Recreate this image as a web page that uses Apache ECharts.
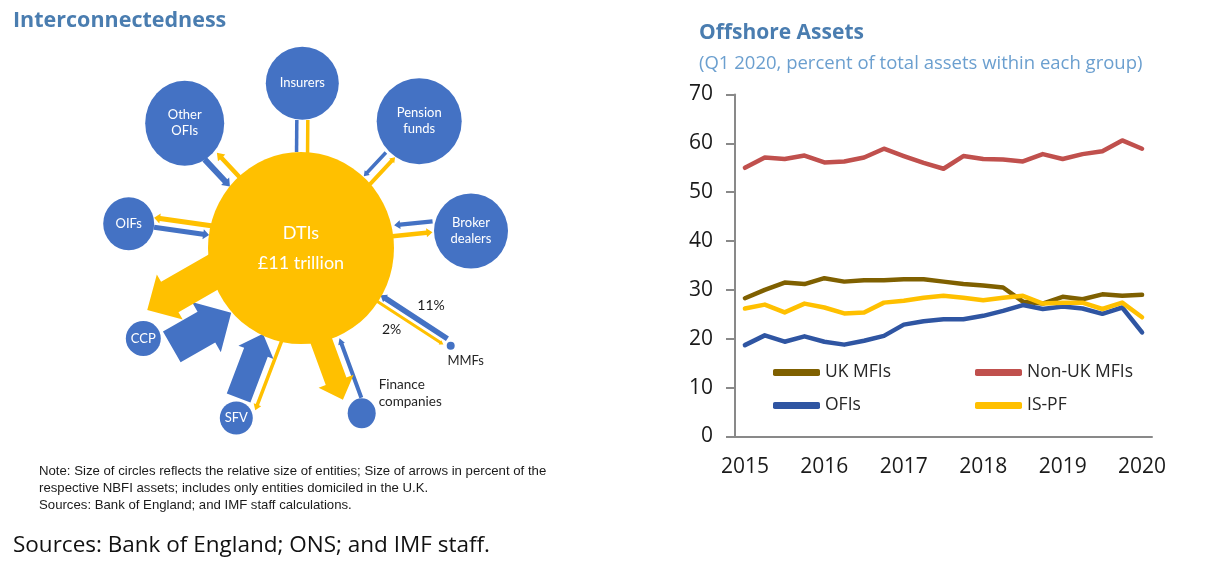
<!DOCTYPE html>
<html>
<head>
<meta charset="UTF-8">
<title>Interconnectedness / Offshore Assets</title>
<script src="https://cdn.jsdelivr.net/npm/echarts@6/dist/echarts.min.js"></script>
<style>
    html, body { margin: 0; padding: 0; background: #fff; }
    #main { width: 1215px; height: 562px; }
</style>
</head>
<body>
<div id="main"></div>
<script>
    // ---- Offshore assets, percent of total assets within each group ----
    var quarters = ['2015Q1','2015Q2','2015Q3','2015Q4','2016Q1','2016Q2','2016Q3','2016Q4',
                    '2017Q1','2017Q2','2017Q3','2017Q4','2018Q1','2018Q2','2018Q3','2018Q4',
                    '2019Q1','2019Q2','2019Q3','2019Q4','2020Q1'];
    var ukMfis    = [28.3, 30.0, 31.5, 31.2, 32.4, 31.7, 32.0, 32.0, 32.2, 32.2, 31.7, 31.2, 30.9, 30.5, 27.6, 27.2, 28.6, 28.1, 29.1, 28.8, 29.0];
    var nonUkMfis = [55.0, 57.1, 56.8, 57.5, 56.1, 56.3, 57.1, 58.9, 57.4, 56.0, 54.8, 57.4, 56.8, 56.7, 56.3, 57.8, 56.8, 57.8, 58.4, 60.6, 58.9];
    var ofis      = [18.7, 20.7, 19.4, 20.5, 19.4, 18.8, 19.6, 20.6, 22.9, 23.6, 24.0, 24.0, 24.7, 25.7, 26.9, 26.1, 26.6, 26.2, 25.1, 26.4, 21.3];
    var isPf      = [26.2, 27.0, 25.4, 27.2, 26.4, 25.2, 25.4, 27.4, 27.8, 28.4, 28.8, 28.4, 27.9, 28.4, 28.8, 27.2, 27.4, 27.4, 26.1, 27.4, 24.4];

    // ---- Interconnectedness diagram ----
    var entities = ['DTIs', 'Insurers', 'Other OFIs', 'Pension funds', 'OIFs', 'Broker dealers',
                    'CCP', 'SFV', 'Finance companies', 'MMFs'];
    var flows = [
        ['Insurers', 'DTIs'], ['DTIs', 'Insurers'],
        ['Other OFIs', 'DTIs'], ['DTIs', 'Other OFIs'],
        ['Pension funds', 'DTIs'], ['DTIs', 'Pension funds'],
        ['OIFs', 'DTIs'], ['DTIs', 'OIFs'],
        ['Broker dealers', 'DTIs'], ['DTIs', 'Broker dealers'],
        ['CCP', 'DTIs'], ['DTIs', 'CCP'],
        ['SFV', 'DTIs'], ['DTIs', 'SFV'],
        ['Finance companies', 'DTIs'], ['DTIs', 'Finance companies'],
        ['MMFs', 'DTIs'], ['DTIs', 'MMFs']
    ];
    var flowShares = ['', '', '', '', '', '', '', '', '', '', '', '', '', '', '', '', '11%', '2%'];

    // layout of the diagram (panel pixels): x, y, width, height
    var nodeLayout = {
        'DTIs': [301, 248, 186, 192],
        'Insurers': [302.3, 83.3, 73, 73],
        'Other OFIs': [184.7, 123.3, 79, 85],
        'Pension funds': [419.2, 121.2, 85, 86],
        'OIFs': [128.7, 223.7, 51, 53],
        'Broker dealers': [471, 231, 74, 75],
        'CCP': [143.3, 338.5, 35, 35],
        'SFV': [236.3, 418, 33, 33],
        'Finance companies': [361.7, 413.3, 28, 30],
        'MMFs': [450.7, 345.7, 8, 8]
    };
    // arrow shape: offset, start, end, width, head width, head length, label dx, dy
    var flowShape = [
        [5.2, 36.7, 68.7, 3.5, 3.5, 0], [5.8, 60, 128, 3.5, 3.5, 0],
        [10, 40, 77, 6, 11, 7], [3.4, 60, 127, 4.5, 10, 7],
        [3, 45.6, 78, 3.5, 7, 5], [7, 60, 130.5, 4, 7, 5],
        [0, 25.6, 81.2, 5, 10, 6], [9.5, 60, 149.7, 5, 10, 6],
        [13.4, 37.3, 75.9, 4.5, 9, 6], [-2.6, 70, 132.4, 4.5, 9, 6],
        [21.5, 20.5, 89, 35.5, 58, 28.6], [22.8, 40, 164.2, 35, 52, 26],
        [-5, 19.6, 88.2, 25.3, 37.5, 19.8], [-15, 80, 168, 3.5, 8, 6],
        [5, 14.7, 78, 4, 7, 6], [13, 80, 157, 22, 37.3, 19.8],
        [4, 6.5, 86.4, 5.5, 9, 6, 17, -11], [3, 90, 172, 3, 5, 4, -17.5, 7]
    ];
    var nodeText = {
        'DTIs': 'DTIs\n£11 trillion',
        'Other OFIs': 'Other\nOFIs',
        'Pension funds': 'Pension\nfunds',
        'Broker dealers': 'Broker\ndealers',
        'Finance companies': 'Finance\ncompanies'
    };

    var BLUE = '#4472c4', GOLD = '#ffc000';
    var diagramFont = 'Lato';
    var chartFont = 'Open Sans';

    function nodeItem(name) {
        var l = nodeLayout[name];
        var item = {
            name: name,
            value: [l[0], l[1]],
            symbolSize: [l[2], l[3]],
            itemStyle: { color: name === 'DTIs' ? GOLD : BLUE, opacity: 1 },
            label: {
                show: true, position: 'inside', color: '#fff',
                fontFamily: diagramFont, fontSize: 13, lineHeight: 16,
                formatter: nodeText[name] || name
            }
        };
        if (name === 'DTIs') {
            item.label.fontSize = 18;
            item.label.lineHeight = 30;
        } else if (name === 'Finance companies') {
            item.label = {
                show: true, position: 'right', distance: 3, offset: [0, -20],
                color: '#262626', fontFamily: diagramFont, fontSize: 13.5, lineHeight: 16.7,
                align: 'left', formatter: nodeText[name]
            };
        } else if (name === 'MMFs') {
            item.label = {
                show: true, position: 'bottom', distance: 5, offset: [15, 0],
                color: '#262626', fontFamily: diagramFont, fontSize: 13, formatter: name
            };
        }
        return item;
    }

    function renderFlow(params, api) {
        var f = flows[params.dataIndex];
        var g = flowShape[params.dataIndex];
        var a = nodeLayout[f[0]], b = nodeLayout[f[1]];
        var dx = b[0] - a[0], dy = b[1] - a[1];
        var len = Math.sqrt(dx * dx + dy * dy);
        var ux = dx / len, uy = dy / len, nx = -uy, ny = ux;
        var off = g[0], t0 = g[1], t1 = g[2], w = g[3] / 2, hw = g[4] / 2, hl = g[5];
        function pt(t, s) {
            return api.coord([a[0] + ux * t + nx * (off + s), a[1] + uy * t + ny * (off + s)]);
        }
        var tn = t1 - hl;
        var pts = [pt(t0, w), pt(tn, w), pt(tn, hw), pt(t1, 0), pt(tn, -hw), pt(tn, -w), pt(t0, -w)];
        var children = [{
            type: 'polygon',
            shape: { points: pts },
            style: { fill: f[0] === 'DTIs' ? GOLD : BLUE }
        }];
        var share = flowShares[params.dataIndex];
        if (share) {
            var mid = pt((t0 + t1) / 2, 0);
            children.push({
                type: 'text',
                x: mid[0] + g[6], y: mid[1] + g[7],
                style: {
                    text: share, fill: '#1a1a1a', fontFamily: diagramFont, fontSize: 14,
                    align: 'center', verticalAlign: 'middle'
                }
            });
        }
        return { type: 'group', children: children };
    }

    function lineSeries(name, data, color) {
        return {
            name: name, type: 'line', xAxisIndex: 1, yAxisIndex: 1, data: data,
            symbol: 'none', showSymbol: false, silent: true,
            itemStyle: { color: color },
            lineStyle: { color: color, width: 4.5, cap: 'round', join: 'round' }
        };
    }

    var legendBase = {
        orient: 'vertical', top: 363.5, padding: 0, itemGap: 15,
        itemWidth: 47, itemHeight: 7, icon: 'roundRect', selectedMode: false,
        textStyle: { fontFamily: chartFont, fontSize: 17.5, color: '#262626' }
    };

    var myChart = echarts.init(document.getElementById('main'));
    var option = {
        animation: false,
        title: [
            {
                text: 'Interconnectedness', left: 13, top: 10, padding: 0,
                textStyle: { fontFamily: chartFont, fontWeight: 'bold', fontSize: 21.5, color: '#4a7db0' }
            },
            {
                text: 'Offshore Assets', left: 699, top: 23, padding: 0,
                textStyle: { fontFamily: chartFont, fontWeight: 'bold', fontSize: 21, color: '#4a7db0' }
            },
            {
                text: '(Q1 2020, percent of total assets within each group)', left: 699, top: 54, padding: 0,
                textStyle: { fontFamily: chartFont, fontWeight: 'normal', fontSize: 18.5, color: '#6b9fcf' }
            },
            {
                text: 'Note: Size of circles reflects the relative size of entities; Size of arrows in percent of the\n' +
                      'respective NBFI assets; includes only entities domiciled in the U.K.\n' +
                      'Sources: Bank of England; and IMF staff calculations.',
                left: 39, top: 463, padding: 0,
                textStyle: { fontFamily: 'Liberation Sans', fontWeight: 'normal', fontSize: 13.2, lineHeight: 17, color: '#1a1a1a' }
            },
            {
                text: 'Sources: Bank of England; ONS; and IMF staff.', left: 13, top: 534, padding: 0,
                textStyle: { fontFamily: chartFont, fontWeight: 'normal', fontSize: 22.5, lineHeight: 23, color: '#111' }
            }
        ],
        legend: [
            Object.assign({}, legendBase, { left: 773, data: ['UK MFIs', 'OFIs'] }),
            Object.assign({}, legendBase, { left: 975, data: ['Non-UK MFIs', 'IS-PF'] })
        ],
        grid: [
            { left: 0, top: 0, width: 560, height: 562 },
            { left: 735, top: 94.5, width: 417, height: 342 }
        ],
        xAxis: [
            { gridIndex: 0, type: 'value', min: 0, max: 560, show: false },
            {
                gridIndex: 1, type: 'category', data: quarters, boundaryGap: true,
                axisLine: { lineStyle: { color: '#898989', width: 2 } },
                axisTick: { interval: 0, length: 8, lineStyle: { color: '#898989', width: 2 } },
                axisLabel: {
                    interval: 3, margin: 20, color: '#1a1a1a', fontFamily: chartFont, fontSize: 21,
                    formatter: function (v) { return v.slice(0, 4); }
                },
                splitLine: { show: false }
            }
        ],
        yAxis: [
            { gridIndex: 0, type: 'value', min: 0, max: 562, inverse: true, show: false },
            {
                gridIndex: 1, type: 'value', min: 0, max: 70, interval: 10,
                axisLine: { show: true, lineStyle: { color: '#898989', width: 2 } },
                axisTick: { show: true, length: 9, lineStyle: { color: '#898989', width: 2 } },
                axisLabel: { margin: 22, color: '#1a1a1a', fontFamily: chartFont, fontSize: 21 },
                splitLine: { show: false }
            }
        ],
        series: [
            {
                type: 'custom', xAxisIndex: 0, yAxisIndex: 0, coordinateSystem: 'cartesian2d',
                renderItem: renderFlow, clip: false, silent: true, z: 1,
                data: flows.map(function (f, i) { return [i, 0]; })
            },
            {
                type: 'scatter', xAxisIndex: 0, yAxisIndex: 0, symbol: 'circle', silent: true, z: 2,
                itemStyle: { opacity: 1 },
                data: entities.map(nodeItem)
            },
            lineSeries('UK MFIs', ukMfis, '#7f6000'),
            lineSeries('Non-UK MFIs', nonUkMfis, '#c0504d'),
            lineSeries('OFIs', ofis, '#2f55a2'),
            lineSeries('IS-PF', isPf, '#ffc000')
        ]
    };
    myChart.setOption(option);
</script>
</body>
</html>
